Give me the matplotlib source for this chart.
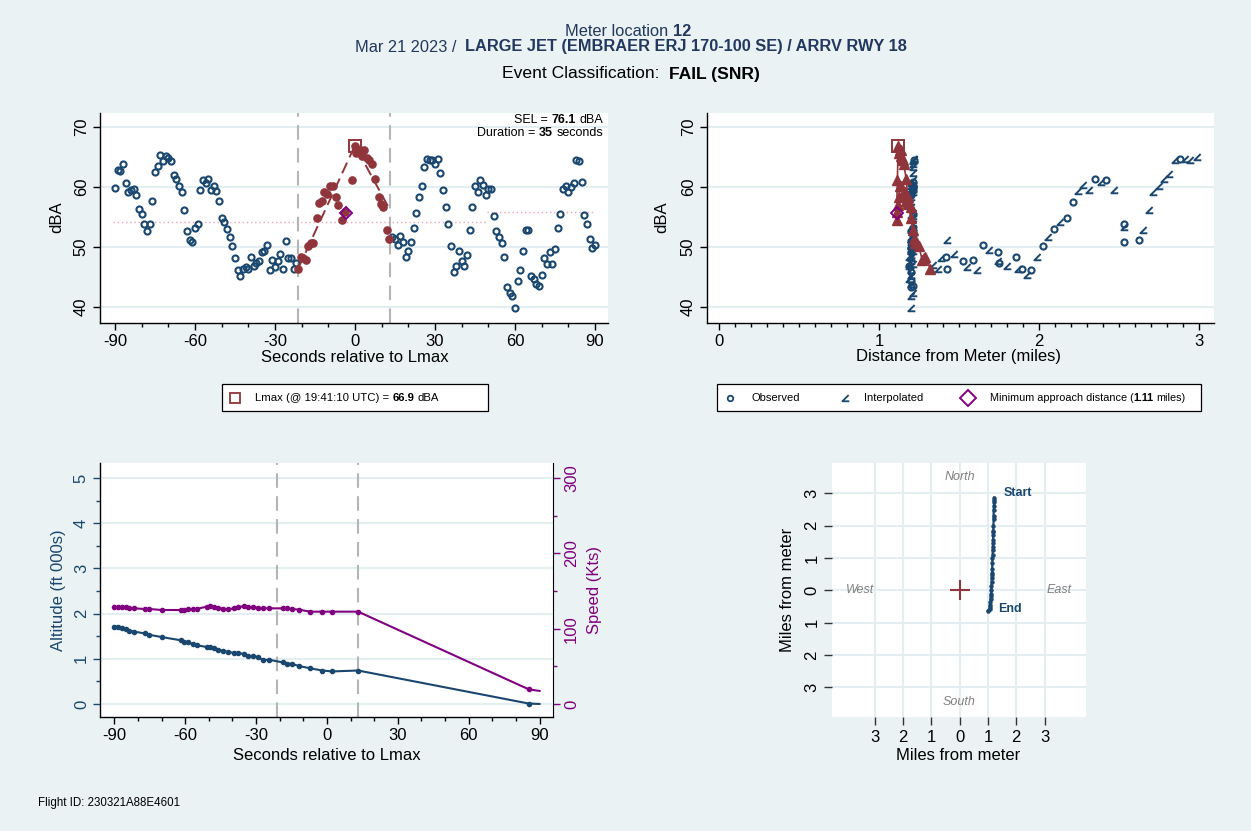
import matplotlib
matplotlib.use('Agg')
import matplotlib.pyplot as plt
from matplotlib.path import Path
from matplotlib.lines import Line2D
from matplotlib.patches import Rectangle
from matplotlib.transforms import IdentityTransform
import matplotlib.ticker as mt

plt.rcParams['font.family'] = ['Liberation Sans', 'DejaVu Sans']
plt.rcParams['axes.unicode_minus'] = False

# ---------------- data ----------------
pre_t = [-90, -89, -88, -87, -86, -85, -84, -83, -82, -81, -80, -79, -78, -77, -76, -75, -74, -73,
         -72, -71, -70, -69, -68, -67, -66, -65, -64, -63, -62, -61, -60, -59, -58, -57, -56, -55,
         -54, -53, -52, -51, -50, -49, -48, -47, -46, -45, -44, -43, -42, -41, -40, -39, -38, -37,
         -36, -35, -34, -33, -32, -31, -30, -29, -28, -27, -26, -25, -24, -23, -22]
pre_db = [59.9, 62.9, 62.7, 63.8, 60.6, 59.1, 59.5, 59.7, 58.7, 56.3,
          55.5, 53.8, 52.7, 53.9, 57.7, 62.5, 63.5, 65.3, 64.4, 65.1,
          64.8, 64.3, 62.0, 61.4, 60.1, 59.2, 56.2, 52.7, 51.1, 50.9,
          53.1, 53.8, 59.5, 61.1, 60.7, 61.3, 59.5, 60.2, 59.3, 57.7,
          54.8, 54.1, 53.0, 51.7, 50.1, 48.2, 46.2, 45.2, 46.3, 46.6,
          46.3, 48.3, 46.8, 47.4, 47.6, 49.1, 49.3, 50.3, 46.1, 47.8,
          46.6, 47.6, 48.8, 46.3, 51.0, 48.2, 48.1, 46.3, 47.3]

ev_t = [-21.2, -20.4, -19.4, -18.4, -17.5, -16.5, -15.6, -14.4, -13.4, -12.5, -11.5, -10.4, -9.4,
        -8.4, -7.2, -6.2, -5.0, -3.8, -1.2, 0.0, 0.4, 1.9, 2.5, 3.4, 4.4, 5.4, 6.5, 7.6, 8.9, 9.9,
        10.6, 11.9, 12.9]
ev_db = [46.4, 48.4, 48.1, 47.8, 50.1, 50.6, 50.7, 54.9, 57.4, 57.6, 59.2, 58.9, 60.1, 60.2, 58.4,
         57.0, 54.5, 55.9, 61.1, 66.9, 65.7, 66.2, 65.1, 66.1, 64.9, 64.5, 63.9, 61.3, 58.3, 57.1,
         56.7, 52.8, 51.4]
ev_dist = [1.32, 1.29, 1.28, 1.27, 1.25, 1.235, 1.225, 1.20, 1.18, 1.17, 1.16, 1.15, 1.14, 1.13,
           1.125, 1.12, 1.115, 1.11, 1.115, 1.12, 1.125, 1.13, 1.135, 1.14, 1.145, 1.15, 1.155,
           1.17, 1.18, 1.19, 1.20, 1.21, 1.22]

post_t = [14, 15, 16, 17, 18, 19, 20, 21, 22, 23, 24, 25, 26, 27, 28, 29, 30, 31, 32, 33, 34, 35,
          36, 37, 38, 39, 40, 41, 42, 43, 44, 45, 46, 47, 48, 49, 50, 51, 52, 53, 54, 55, 56, 57,
          58, 59, 60, 61, 62, 63, 64, 65, 66, 67, 68, 69, 70, 71, 72, 73, 74, 75, 76, 77, 78, 79,
          80, 81, 82, 83, 84, 85, 86, 87, 88, 89, 90]
post_db = [51.6, 51.4, 50.3, 51.8, 50.9, 48.4, 49.3, 50.9, 53.2, 55.6,
           58.4, 60.2, 63.4, 64.6, 64.5, 64.5, 63.8, 64.6, 62.3, 59.5,
           56.7, 53.9, 50.1, 45.8, 46.9, 49.4, 47.7, 46.9, 48.7, 52.8,
           56.7, 60.1, 59.1, 61.2, 60.3, 58.6, 59.6, 59.6, 55.1, 52.7,
           51.7, 50.6, 48.4, 43.3, 42.4, 41.9, 39.8, 44.4, 46.2, 49.3,
           52.8, 52.8, 45.2, 44.6, 43.8, 43.5, 45.4, 48.1, 47.1, 49.1,
           47.1, 49.6, 53.2, 55.5, 59.7, 60.2, 59.1, 60.0, 60.6, 64.5,
           64.3, 60.9, 55.4, 53.8, 51.3, 49.8, 50.3]
post_dist = [1.21, 1.20, 1.20, 1.21, 1.20, 1.19, 1.20, 1.20, 1.21, 1.21,
             1.20, 1.21, 1.21, 1.22, 1.21, 1.22, 1.21, 1.22, 1.21, 1.21,
             1.20, 1.21, 1.20, 1.20, 1.19, 1.20, 1.20, 1.19, 1.20, 1.21,
             1.20, 1.21, 1.20, 1.21, 1.21, 1.20, 1.21, 1.20, 1.21, 1.20,
             1.20, 1.21, 1.20, 1.20, 1.21, 1.20, 1.20, 1.20, 1.20, 1.21,
             1.20, 1.21, 1.20, 1.19, 1.20, 1.21, 1.20, 1.20, 1.19, 1.20,
             1.21, 1.20, 1.20, 1.21, 1.21, 1.20, 1.21, 1.21, 1.20, 1.22,
             1.21, 1.21, 1.20, 1.21, 1.20, 1.20, 1.20]
post_kind = "iiioiiioiiioiiioiiioiiioiiioiiioiiioiiioiiioiiioiiioiiioiiioiiioiiioiiioiiioi"

r_obs_dist = [1.427, 1.419, 1.523, 1.590, 1.648, 1.742, 1.752, 1.854, 1.892, 1.950, 2.027, 2.096,
              2.173, 2.215, 2.352, 2.421, 2.531, 2.531, 2.627, 2.880]
r_obs_db = [46.3, 48.3, 47.6, 47.9, 50.3, 49.2, 47.4, 48.4, 46.3, 46.2, 50.1, 53.0, 54.8, 57.5,
            61.3, 61.1, 53.8, 50.9, 51.1, 64.7]
r_int_dist = [1.34, 1.37, 1.385, 1.423, 1.469, 1.548, 1.615, 1.690, 1.745, 1.798, 1.871, 1.923,
              1.985, 2.054, 2.131, 2.246, 2.277, 2.315, 2.385, 2.471, 2.531, 2.652, 2.688, 2.715,
              2.750, 2.783, 2.813, 2.850, 2.913, 2.944, 2.985]
r_int_db = [47.0, 46.4, 48.1, 51.2, 48.8, 46.7, 46.1, 49.5, 47.6, 46.9, 46.4, 45.3, 48.4, 51.7,
            54.2, 59.3, 60.3, 59.5, 60.9, 59.5, 53.3, 52.8, 56.2, 59.2, 60.1, 61.4, 62.1, 64.5,
            64.7, 64.5, 65.0]

thr_x0 = [-90.7, 49.5]
thr_x1 = [49.0, 90.0]
thr_db = [54.2, 55.9]
event_start, event_end = -21.3, 13.0
tri_t = [-21.3, 0.0, 13.0]
tri_db = [46.4, 66.9, 56.3]
lmax_t, lmax_db, lmax_dist = 0.0, 66.9, 1.12
mad_t, mad_db, mad_dist = -3.5, 55.6, 1.11

trk_t = [-90.2, -88.4, -86.7, -85.1, -83.7, -81.6, -77.1, -75.2, -70.0, -62.0, -60.4, -59.0, -56.9,
         -55.2, -51.0, -49.6, -47.9, -46.0, -43.9, -41.8, -39.4, -37.6, -35.2, -33.3, -31.2, -29.1,
         -27.0, -24.6, -18.8, -17.1, -15.0, -11.9, -7.2, -2.0, 2.2, 13.2, 85.4, 90.0]
alt = [1.71, 1.71, 1.68, 1.65, 1.62, 1.60, 1.56, 1.53, 1.48, 1.41, 1.36, 1.36, 1.33, 1.30, 1.26,
       1.26, 1.23, 1.20, 1.17, 1.15, 1.13, 1.12, 1.11, 1.06, 1.06, 1.03, 0.97, 0.98, 0.92, 0.89,
       0.89, 0.84, 0.79, 0.74, 0.72, 0.74, 0.01, 0.0]
spd = [128.3, 128.3, 128.3, 128.3, 127.9, 127.0, 126.1, 126.1, 124.8, 124.8, 124.8, 125.7, 126.1,
       126.1, 129.2, 130.1, 129.2, 127.9, 126.1, 125.7, 127.0, 128.3, 130.1, 129.2, 128.3, 127.9,
       127.0, 127.0, 127.0, 127.0, 126.1, 125.3, 122.6, 122.6, 122.6, 122.6, 19.5, 17.3]

map_x = [1.22, 1.22, 1.215, 1.21, 1.205, 1.20, 1.20, 1.195, 1.19, 1.19, 1.185, 1.18, 1.18, 1.175,
         1.17, 1.165, 1.16, 1.155, 1.15, 1.145, 1.14, 1.135, 1.13, 1.125, 1.12, 1.11, 1.10, 1.095,
         1.09, 1.08, 1.07, 1.07, 0.99]
map_y = [2.87, 2.80, 2.72, 2.60, 2.50, 2.30, 2.20, 2.00, 1.85, 1.80, 1.70, 1.55, 1.45, 1.35, 1.25,
         1.10, 1.00, 0.85, 0.65, 0.55, 0.48, 0.38, 0.25, 0.12, 0.0, -0.10, -0.19, -0.28, -0.35,
         -0.45, -0.52, -0.57, -0.63]
map_ticks = [-3, -2, -1, 0, 1, 2, 3]
map_ticklabels = ['3', '2', '1', '0', '1', '2', '3']

# ---------------- style ----------------
W, H = 1251, 831
BG = '#eaf2f3'
GRID = '#e4edef'
NAVY = '#1a476f'
MAROON = '#90353b'
PURPLE = '#800080'
DGRAY = '#b5b5b5'
PINK = '#f0a3b3'
TITLE = '#22385e'

fig = plt.figure(figsize=(W / 100, H / 100), dpi=100, facecolor=BG)


def axes_px(l, t, r, b):
    return fig.add_axes([l / W, 1 - b / H, (r - l) / W, (b - t) / H])


def ftext(x, y, s, **kw):
    return fig.text(x / W, 1 - y / H, s, **kw)


def rich(xc, yc, parts, fs, ha='center', color='black'):
    r = fig.canvas.get_renderer()
    sp = 0.278 * fs * 100 / 72
    objs, widths = [], []
    for s, w, n in parts:
        t = fig.text(0, 0, s, fontsize=fs, fontweight=w, color=color, va='center', ha='left',
                     transform=IdentityTransform())
        widths.append(t.get_window_extent(r).width + n * sp)
        objs.append(t)
    total = sum(widths) - parts[-1][2] * sp
    if ha == 'center':
        x = xc - total / 2
    elif ha == 'right':
        x = xc - total
    else:
        x = xc
    for t, wd in zip(objs, widths):
        t.set_position((x, H - yc))
        x += wd


def style_ax(ax, spines=('left', 'bottom')):
    ax.set_facecolor('white')
    for k, s in ax.spines.items():
        s.set_visible(k in spines)
        s.set_linewidth(1.0)
        s.set_color('black')
    ax.tick_params(which='major', direction='out', length=5, width=1, labelsize=12, pad=3)
    ax.tick_params(which='minor', direction='out', length=3, width=1)
    ax.tick_params(axis='y', labelrotation=90)


interp_marker = Path([(0.45, 0.5), (-0.45, -0.4), (0.55, -0.4)],
                     [Path.MOVETO, Path.LINETO, Path.LINETO])

# ---------------- top-left ----------------
ax1 = axes_px(100, 113, 608, 323)
style_ax(ax1)
ax1.set_xlim(-95.6, 94.9)
ax1.set_ylim(37.33, 72.33)
ax1.set_xticks([-90, -60, -30, 0, 30, 60, 90])
ax1.xaxis.set_minor_locator(mt.MultipleLocator(10))
ax1.set_yticks([40, 50, 60, 70])
ax1.yaxis.grid(True, color=GRID, lw=1.5)
ax1.set_axisbelow(True)
for lab in ax1.get_yticklabels():
    lab.set_va('center')
for x0, x1, d in zip(thr_x0, thr_x1, thr_db):
    ax1.plot([x0, x1], [d, d], ls=(0, (1, 2)), color=PINK, lw=1.0)
ax1.axvline(event_start, color=DGRAY, lw=1.5, ls=(0, (7, 4)))
ax1.axvline(event_end, color=DGRAY, lw=1.5, ls=(0, (7, 4)))
ax1.plot(pre_t, pre_db, ls='none', marker='o', ms=4.4, mfc='none', mec=NAVY, mew=1.5)
ax1.plot(post_t, post_db, ls='none', marker='o', ms=4.4, mfc='none', mec=NAVY, mew=1.5)
ax1.plot(tri_t, tri_db, color=MAROON, lw=1.4, ls=(0, (6, 3)))
ax1.plot(ev_t, ev_db, ls='none', marker='o', ms=5.2, color=MAROON)
ax1.plot([lmax_t], [lmax_db], ls='none', marker='s', ms=8, mfc='none', mec=MAROON, mew=1.4)
ax1.plot([mad_t], [mad_db], ls='none', marker='D', ms=6.5, mfc='none', mec=PURPLE, mew=1.4)
rich(603, 120, [("SEL =", 'normal', 1), ("76.1", 'bold', 1), ("dBA", 'normal', 0)], 9, ha='right')
rich(603, 133, [("Duration =", 'normal', 1), ("35", 'bold', 1), ("seconds", 'normal', 0)], 9,
     ha='right')
ftext(57, 217, "dBA", fontsize=12, rotation=90, ha='center', va='center')
ftext(355, 357, "Seconds relative to Lmax", fontsize=12, ha='center', va='center')

# ---------------- top-right ----------------
ax2 = axes_px(707, 113, 1214, 323)
style_ax(ax2)
ax2.set_xlim(-0.075, 3.094)
ax2.set_ylim(37.33, 72.33)
ax2.set_xticks([0, 1, 2, 3])
ax2.xaxis.set_minor_locator(mt.MultipleLocator(0.1))
ax2.set_yticks([40, 50, 60, 70])
ax2.yaxis.grid(True, color=GRID, lw=1.5)
ax2.set_axisbelow(True)
for lab in ax2.get_yticklabels():
    lab.set_va('center')
ax2.plot(r_int_dist, r_int_db, ls='none', marker=interp_marker, ms=5.5, mfc='none', mec=NAVY,
         mew=1.4)
ax2.plot(r_obs_dist, r_obs_db, ls='none', marker='o', ms=4.4, mfc='none', mec=NAVY, mew=1.5)
pi_d = [d for d, k in zip(post_dist, post_kind) if k == 'i']
pi_v = [v for v, k in zip(post_db, post_kind) if k == 'i']
po_d = [d for d, k in zip(post_dist, post_kind) if k == 'o']
po_v = [v for v, k in zip(post_db, post_kind) if k == 'o']
ax2.plot(pi_d, pi_v, ls='none', marker=interp_marker, ms=5.5, mfc='none', mec=NAVY, mew=1.4)
ax2.plot(po_d, po_v, ls='none', marker='o', ms=4.4, mfc='none', mec=NAVY, mew=1.5)
ax2.plot(ev_dist, ev_db, color=MAROON, lw=1.2, marker='^', ms=7)
ax2.plot([lmax_dist], [lmax_db], ls='none', marker='s', ms=8, mfc='none', mec=MAROON, mew=1.4)
ax2.plot([mad_dist], [mad_db], ls='none', marker='D', ms=6.5, mfc='none', mec=PURPLE, mew=1.4)
ftext(662, 217, "dBA", fontsize=12, rotation=90, ha='center', va='center')
ftext(958, 357, "Distance from Meter (miles)", fontsize=12, ha='center', va='center')

# ---------------- legends ----------------
fig.add_artist(Rectangle((222 / W, 1 - 411 / H), (488 - 222) / W, 27 / H,
                         transform=fig.transFigure, facecolor='white', edgecolor='black', lw=0.9))
fig.add_artist(Line2D([235 / W], [1 - 398 / H], marker='s', ms=7, mfc='none', mec=MAROON, mew=1.3,
                      transform=fig.transFigure))
rich(255, 398, [("Lmax (@ 19:41:10 UTC) =", 'normal', 1), ("66.9", 'bold', 1),
                ("dBA", 'normal', 0)], 8.2, ha='left')
fig.add_artist(Rectangle((717 / W, 1 - 411 / H), (1201 - 717) / W, 27 / H,
                         transform=fig.transFigure, facecolor='white', edgecolor='black', lw=0.9))
fig.add_artist(Line2D([730 / W], [1 - 398 / H], marker='o', ms=4, mfc='none', mec=NAVY, mew=1.3,
                      transform=fig.transFigure))
ftext(751, 398, "Observed", fontsize=8, ha='left', va='center')
fig.add_artist(Line2D([845 / W], [1 - 398 / H], marker=interp_marker, ms=5.5, mfc='none', mec=NAVY,
                      mew=1.3, transform=fig.transFigure))
ftext(864, 398, "Interpolated", fontsize=8, ha='left', va='center')
fig.add_artist(Line2D([968 / W], [1 - 398 / H], marker='D', ms=8, mfc='none', mec=PURPLE, mew=1.4,
                      transform=fig.transFigure))
rich(990, 398, [("Minimum approach distance (", 'normal', 0), ("1.11", 'bold', 1),
                ("miles)", 'normal', 0)], 7.8, ha='left')

# ---------------- bottom-left ----------------
ax3 = axes_px(100, 463, 553, 717)
style_ax(ax3)
ax3.set_xlim(-96.1, 95.7)
ax3.set_ylim(-0.288, 5.33)
ax3.set_xticks([-90, -60, -30, 0, 30, 60, 90])
ax3.xaxis.set_minor_locator(mt.MultipleLocator(10))
ax3.set_yticks([0, 1, 2, 3, 4, 5])
ax3.yaxis.set_minor_locator(mt.MultipleLocator(0.5))
ax3.tick_params(axis='y', which='both', colors=NAVY)
ax3.yaxis.grid(True, color=GRID, lw=1.5)
ax3.set_axisbelow(True)
for lab in ax3.get_yticklabels():
    lab.set_va('center')
ax3.axvline(event_start, color=DGRAY, lw=1.5, ls=(0, (7, 4)))
ax3.axvline(event_end, color=DGRAY, lw=1.5, ls=(0, (7, 4)))
ax3.plot(trk_t, alt, color=NAVY, lw=1.5, marker='o', ms=3, markevery=list(range(len(trk_t) - 1)))
ax3b = ax3.twinx()
ax3b.patch.set_visible(False)
for k, s in ax3b.spines.items():
    s.set_visible(k == 'right')
    s.set_color('black')
ax3b.set_ylim(-17.3, 320)
ax3b.set_yticks([0, 100, 200, 300])
ax3b.yaxis.set_minor_locator(mt.MultipleLocator(50))
ax3b.tick_params(which='major', direction='out', length=5, width=1, labelsize=12, pad=3,
                 colors=PURPLE, labelrotation=90)
ax3b.tick_params(which='minor', direction='out', length=3, width=1, colors=PURPLE)
for lab in ax3b.get_yticklabels():
    lab.set_va('center')
ax3b.plot(trk_t, spd, color=PURPLE, lw=1.5, marker='o', ms=3,
          markevery=list(range(len(trk_t) - 1)))
ftext(58, 590, "Altitude (ft 000s)", fontsize=12, rotation=90, ha='center', va='center',
      color=NAVY)
ftext(595, 590, "Speed (Kts)", fontsize=12, rotation=90, ha='center', va='center', color=PURPLE)
ftext(327, 755, "Seconds relative to Lmax", fontsize=12, ha='center', va='center')

# ---------------- bottom-right (map) ----------------
ax4 = axes_px(832, 463, 1086, 717)
style_ax(ax4, spines=())
ax4.set_xlim(-4.5, 4.46)
ax4.set_ylim(-3.92, 3.94)
ax4.set_xticks(map_ticks)
ax4.set_xticklabels(map_ticklabels)
ax4.set_yticks(map_ticks)
ax4.set_yticklabels(map_ticklabels)
ax4.tick_params(which='major', length=6, color='#333333')
for lab in ax4.get_yticklabels():
    lab.set_va('center')
ax4.grid(True, color=GRID, lw=1.5)
ax4.set_axisbelow(True)
ax4.text(0, 3.52, "North", fontsize=9, style='italic', color='#808080', ha='center', va='center')
ax4.text(0, -3.45, "South", fontsize=9, style='italic', color='#808080', ha='center', va='center')
ax4.text(-3.5, 0, "West", fontsize=9, style='italic', color='#808080', ha='center', va='center')
ax4.text(3.5, 0, "East", fontsize=9, style='italic', color='#808080', ha='center', va='center')
ax4.plot([0], [0], marker='+', ms=14, mew=1.5, color=MAROON, ls='none')
ax4.plot(map_x, map_y, color=NAVY, lw=1.6, marker='o', ms=2.2)
ax4.text(1.54, 3.0, "Start", fontsize=9, fontweight='bold', color=NAVY, ha='left', va='center')
ax4.text(1.36, -0.57, "End", fontsize=9, fontweight='bold', color=NAVY, ha='left', va='center')
ftext(958, 755, "Miles from meter", fontsize=12, ha='center', va='center')
ftext(787, 590, "Miles from meter", fontsize=12, rotation=90, ha='center', va='center')

# ---------------- titles ----------------
rich(628, 32, [("Meter location", 'normal', 1), ("12", 'bold', 0)], 11.8, color=TITLE)
rich(631, 47, [("Mar 21 2023 /", 'normal', 2),
               ("LARGE JET (EMBRAER ERJ 170-100 SE) / ARRV RWY 18", 'bold', 0)], 11.8,
     color=TITLE)
rich(631, 74, [("Event Classification:", 'normal', 2), ("FAIL (SNR)", 'bold', 0)], 12.6)
ftext(38, 803, "Flight ID: 230321A88E4601", fontsize=8.3, ha='left', va='center')

fig.savefig('out.png', dpi=100, facecolor=BG)
